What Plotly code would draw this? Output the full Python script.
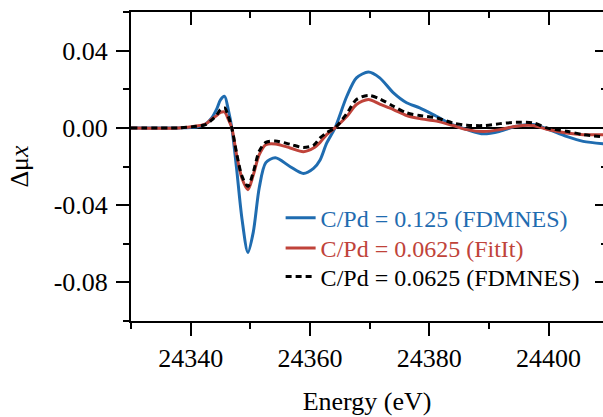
import plotly.graph_objects as go

energy = [24330, 24338, 24341, 24342.5, 24343.5, 24344.4, 24345.0, 24345.7, 24346.3, 24346.9,
          24347.7, 24348.6, 24349.6, 24350.5, 24351.5, 24352.6, 24354.2, 24356.7, 24358.9, 24360.6,
          24361.7, 24362.8, 24364.2, 24366.2, 24367.8, 24369.8, 24371.7, 24374.0, 24376.2, 24378.4,
          24381.2, 24384.0, 24386.3, 24389.1, 24391.9, 24394.6, 24397.4, 24399.7, 24403.0, 24405.8,
          24409.2]

blue_fdmnes_0125 = [0, 0, 0.0005, 0.0020, 0.0050, 0.0100, 0.0145, 0.0163, 0.0095, 0.0,
                    -0.021, -0.047, -0.0645, -0.054, -0.031, -0.018, -0.0155, -0.0201, -0.0236, -0.021,
                    -0.0166, -0.0079, 0.0, 0.0165, 0.0259, 0.0289, 0.0259, 0.0181, 0.0130, 0.0104,
                    0.0060, 0.0015, -0.0009, -0.0031, -0.0017, 0.0009, 0.0017, -0.0005, -0.0044, -0.0070,
                    -0.0082]

red_fitit_00625 = [0, 0, 0.0010, 0.0020, 0.0045, 0.0065, 0.0080, 0.0082, 0.0045, 0.0,
                   -0.0139, -0.0261, -0.032, -0.0244, -0.0139, -0.0087, -0.0083, -0.0104, -0.0123, -0.0104,
                   -0.0075, -0.0035, 0.0, 0.0060, 0.0121, 0.0147, 0.0123, 0.0095, 0.0064, 0.0048,
                   0.0035, 0.0012, -0.0009, -0.0019, -0.0009, 0.0009, 0.0012, -0.0007, -0.0026, -0.0035,
                   -0.0035]

black_fdmnes_00625 = [0, 0, 0.0008, 0.0017, 0.0040, 0.0068, 0.0095, 0.0103, 0.0060, 0.0,
                      -0.013, -0.025, -0.0303, -0.023, -0.012, -0.0075, -0.0068, -0.0085, -0.0102, -0.0090,
                      -0.0052, -0.0025, 0.0, 0.0075, 0.0147, 0.0168, 0.0150, 0.0112, 0.0078, 0.0064,
                      0.0052, 0.0025, 0.0014, 0.0012, 0.0022, 0.0029, 0.0026, 0.0, -0.0017, -0.0035,
                      -0.0047]

series_names = ["C/Pd = 0.125 (FDMNES)", "C/Pd = 0.0625 (FitIt)", "C/Pd = 0.0625 (FDMNES)"]
series_colors = ["#1f6cb0", "#c0433a", "#000000"]

x_major = [24340, 24360, 24380, 24400]
x_minor = [24330, 24350, 24370, 24390]
y_major = [0.04, 0.0, -0.04, -0.08]
y_major_text = ["0.04", "0.00", "-0.04", "-0.08"]
y_minor = [0.06, 0.02, -0.02, -0.06, -0.10]

x_range = [24330, 24409.13]
y_range = [-0.10, 0.06]

FONT = "Liberation Serif, Times New Roman, serif"

fig = go.Figure()
legend_ids = ["legend", "legend2", "legend3"]
for name, vals, col, dash, lg in zip(series_names,
                                     [blue_fdmnes_0125, red_fitit_00625, black_fdmnes_00625],
                                     series_colors, ["solid", "solid", "6px,4px"], legend_ids):
    fig.add_trace(go.Scatter(
        x=energy, y=vals, mode="lines",
        line=dict(color=col, width=3, dash=dash, shape="spline", smoothing=0.8),
        name=f'<span style="color:{col}">{name}</span>',
        legend=lg, hoverinfo="skip",
    ))

# helper trace for mirrored top/right axes
fig.add_trace(go.Scatter(x=[None], y=[None], xaxis="x2", yaxis="y2",
                         showlegend=False, hoverinfo="skip"))

axis_common = dict(showgrid=False, linecolor="black", tickcolor="black",
                   tickwidth=2, automargin=False)

legend_common = dict(x=0.317, xanchor="left", yanchor="middle",
                     bgcolor="rgba(0,0,0,0)", font=dict(family=FONT, size=24),
                     itemwidth=30)

fig.update_layout(
    width=603, height=417,
    margin=dict(l=131, r=0, t=12, b=96, autoexpand=False),
    paper_bgcolor="white", plot_bgcolor="white",
    font=dict(family=FONT, color="black", size=26),
    xaxis=dict(range=x_range, showline=True, linewidth=2, zeroline=False, mirror=True,
               ticks="outside", ticklen=13, tickvals=x_major,
               ticktext=[str(v) for v in x_major],
               minor=dict(tickvals=x_minor, ticks="outside", ticklen=6, tickwidth=2, tickcolor="black"),
               title=dict(text="Energy (eV)", font=dict(family=FONT, size=26), standoff=20),
               **axis_common),
    yaxis=dict(range=y_range, showline=True, linewidth=2,
               zeroline=True, zerolinecolor="black", zerolinewidth=2,
               ticks="outside", ticklen=13, tickvals=y_major, ticktext=y_major_text,
               ticklabelstandoff=3,
               minor=dict(tickvals=y_minor, ticks="outside", ticklen=6, tickwidth=2, tickcolor="black"),
               title=dict(text="Δμ<i>x</i>", font=dict(family=FONT, size=26), standoff=18),
               **axis_common),
    xaxis2=dict(range=x_range, overlaying="x", side="top", showline=True, linewidth=2,
                zeroline=False, ticks="inside", ticklen=13, tickvals=x_major,
                showticklabels=False,
                minor=dict(tickvals=x_minor, ticks="inside", ticklen=6, tickwidth=2, tickcolor="black"),
                **axis_common),
    yaxis2=dict(range=y_range, overlaying="y", side="right", showline=False,
                zeroline=False, ticks="inside", ticklen=8, tickvals=y_major,
                showticklabels=False,
                minor=dict(tickvals=y_minor, ticks="inside", ticklen=2, tickwidth=2, tickcolor="black"),
                **axis_common),
    legend=dict(y=0.333, **legend_common),
    legend2=dict(y=0.235, **legend_common),
    legend3=dict(y=0.143, **legend_common),
    showlegend=True,
)
fig.update_xaxes(tickfont=dict(family=FONT, size=26, color="black"))
fig.update_yaxes(tickfont=dict(family=FONT, size=26, color="black"))

fig.write_html("out.html", config={"displayModeBar": False},
               post_script="document.body.style.margin='0';document.body.style.padding='0';")
